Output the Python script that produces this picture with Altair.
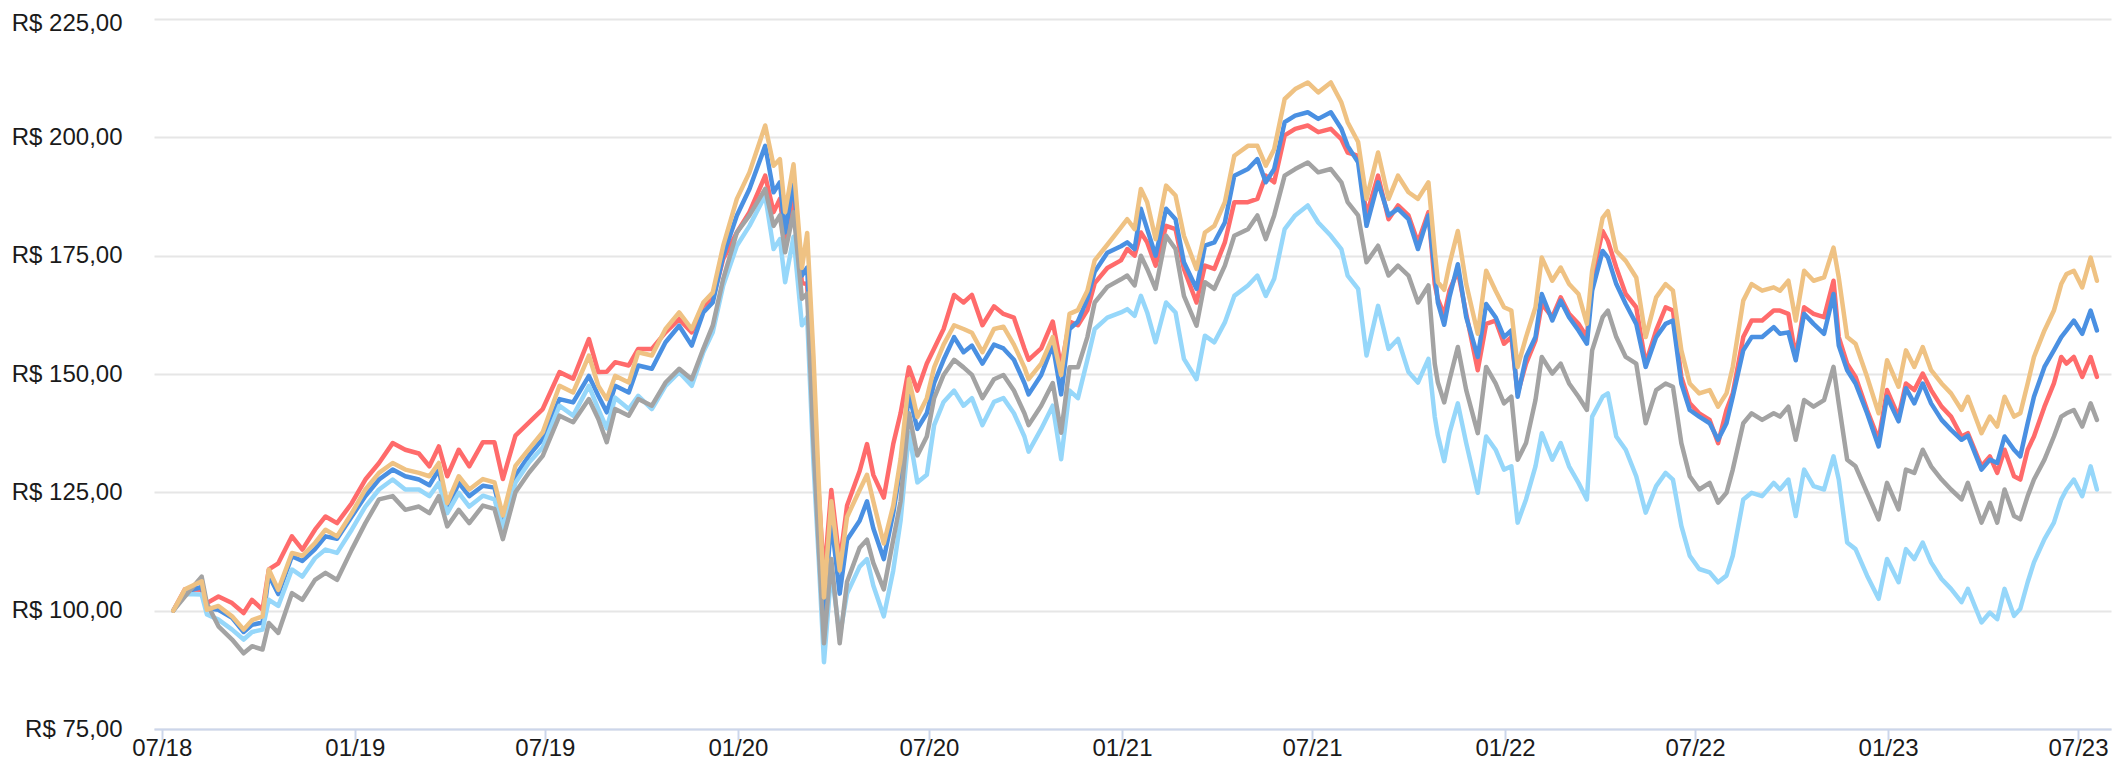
import altair as alt
import pandas as pd

# ---- data (dates and five portfolio series) ----
dates = [
    # 2018
    "2018-07-12", "2018-07-23", "2018-08-08", "2018-08-13", "2018-08-24", "2018-09-06",
    "2018-09-17", "2018-09-25", "2018-10-05", "2018-10-11", "2018-10-20", "2018-11-02",
    "2018-11-12", "2018-11-24", "2018-12-04", "2018-12-15", "2018-12-29",
    # 2019
    "2019-01-11", "2019-01-24", "2019-02-06", "2019-02-18", "2019-03-03", "2019-03-13",
    "2019-03-22", "2019-03-30", "2019-04-10", "2019-04-20", "2019-05-03", "2019-05-14",
    "2019-05-22", "2019-06-03", "2019-06-16", "2019-06-29", "2019-07-15", "2019-07-28",
    "2019-08-12", "2019-08-21", "2019-08-29", "2019-09-06", "2019-09-19", "2019-09-28",
    "2019-10-11", "2019-10-24", "2019-11-06", "2019-11-18", "2019-11-29", "2019-12-08",
    "2019-12-18", "2019-12-31",
    # 2020
    "2020-01-12", "2020-01-27", "2020-02-04", "2020-02-10", "2020-02-15", "2020-02-23",
    "2020-03-02", "2020-03-07", "2020-03-13", "2020-03-18", "2020-03-23", "2020-03-30",
    "2020-04-07", "2020-04-14", "2020-04-26", "2020-05-03", "2020-05-09", "2020-05-19",
    "2020-05-28", "2020-06-04", "2020-06-12", "2020-06-20", "2020-06-29", "2020-07-06",
    "2020-07-15", "2020-07-25", "2020-08-03", "2020-08-11", "2020-08-21", "2020-09-01",
    "2020-09-10", "2020-09-20", "2020-09-30", "2020-10-04", "2020-10-16", "2020-10-27",
    "2020-11-04", "2020-11-12", "2020-11-20", "2020-11-29", "2020-12-06", "2020-12-18",
    "2020-12-31",
    # 2021
    "2021-01-06", "2021-01-13", "2021-01-19", "2021-01-25", "2021-02-02", "2021-02-12",
    "2021-02-21", "2021-03-01", "2021-03-13", "2021-03-21", "2021-03-30", "2021-04-09",
    "2021-04-18", "2021-05-01", "2021-05-10", "2021-05-18", "2021-05-26", "2021-06-05",
    "2021-06-15", "2021-06-27", "2021-07-07", "2021-07-19", "2021-07-29", "2021-08-04",
    "2021-08-14", "2021-08-22", "2021-09-02", "2021-09-12", "2021-09-21", "2021-10-01",
    "2021-10-10", "2021-10-20", "2021-10-26", "2021-10-29", "2021-11-04", "2021-11-09",
    "2021-11-17", "2021-11-25", "2021-12-06", "2021-12-14", "2021-12-23", "2021-12-31",
    # 2022
    "2022-01-07", "2022-01-13", "2022-01-21", "2022-01-30", "2022-02-05", "2022-02-15",
    "2022-02-23", "2022-03-03", "2022-03-12", "2022-03-20", "2022-03-25", "2022-04-04",
    "2022-04-09", "2022-04-17", "2022-04-26", "2022-05-06", "2022-05-15", "2022-05-25",
    "2022-06-03", "2022-06-10", "2022-06-18", "2022-06-26", "2022-07-05", "2022-07-15",
    "2022-07-23", "2022-07-31", "2022-08-06", "2022-08-16", "2022-08-24", "2022-09-03",
    "2022-09-14", "2022-09-20", "2022-09-28", "2022-10-05", "2022-10-13", "2022-10-22",
    "2022-11-01", "2022-11-10", "2022-11-15", "2022-11-23", "2022-12-01", "2022-12-12",
    "2022-12-23", "2022-12-31",
    # 2023
    "2023-01-11", "2023-01-18", "2023-01-26", "2023-02-03", "2023-02-11", "2023-02-21",
    "2023-03-02", "2023-03-12", "2023-03-18", "2023-03-31", "2023-04-08", "2023-04-15",
    "2023-04-22", "2023-05-01", "2023-05-07", "2023-05-14", "2023-05-20", "2023-05-30",
    "2023-06-08", "2023-06-15", "2023-06-20", "2023-06-27", "2023-07-05", "2023-07-13",
    "2023-07-19",
]

red = [
    100, 104.5, 104.4, 101.6, 103, 101.6, 99.5, 102.3, 100.2, 108.7, 110, 115.7,
    112.9, 117.1, 119.9, 118.5, 122.7,
    127.7, 131.2, 135.4, 134, 133.2, 130.5, 134.7, 128.4, 134, 130.5, 135.6, 135.6,
    127.8, 137, 139.8, 142.6, 150.4, 149, 157.4, 150.4, 150.5, 152.5, 151.8, 155.3,
    155.3, 158.8, 161.6, 158.8, 164.4, 165.8, 174.3, 179.9,
    184.2, 191.9, 184.2, 187, 178, 187.8, 169.2, 169, 140, 125, 106.9, 125.5,
    110.1, 122.2, 129.5, 135.2, 128.7, 123.9, 135.2, 141.7, 151.4, 146.5, 152.2, 155.4,
    159.5, 166.7, 165.1, 166.7, 160.3, 164.3, 162.7, 161.9, 155.4, 153, 155.4, 161.1,
    151.4, 161.1, 160.3, 163.5, 169.2, 172.4, 174,
    176.4, 175, 179.9, 177.8, 172.9, 181.3, 180.6, 172.2, 165.1, 172.9, 172.2, 177.8,
    186.3, 186.3, 187, 191.9, 190.5, 200.4, 201.8, 202.5, 201.1, 201.8, 199.6, 196.8,
    196.1, 183.5, 191.9, 182.7, 185.6, 183.5, 177.8, 184.2, 169, 165.8, 162.5, 167.6,
    171.8, 162.7, 150.8, 160.6, 161.3, 156.4,
    157.8, 145.9, 152.2, 157.1, 164.8, 162, 166.2, 162.7, 160.6, 157.8, 170.4, 180.2,
    178.1, 172.5, 166.9, 164.1, 152.2, 159.2, 164.1, 163.4, 149.4, 143.8, 141.7, 140.3,
    135.4, 142.4, 145.9, 157.8, 161.3, 161.3, 163.4, 163.4, 162.7, 153.6, 164.1, 162.7,
    162, 169.7, 157.8, 152.2, 149.4, 142.4, 136.1, 146.6,
    141, 148, 146.6, 150.1, 146.6, 143.1, 141, 136.8, 137.5, 130.5, 132.6, 129.1,
    134, 128.4, 127.7, 134, 136.8, 143.1, 148, 153.6, 152.2, 153.6, 149.4, 153.6,
    149.4,
]

blue = [
    100, 104, 105, 100.5, 100.2, 98.5, 95.5, 97, 97.5, 107.5, 103.5, 111.5,
    110.5, 113, 115.7, 115.2, 119.9,
    124.2, 127.7, 129.8, 128.4, 127.7, 126.5, 129.8, 121.3, 127, 124.2, 126.4, 126,
    119, 128.5, 132.8, 136.3, 144.7, 144, 149.6, 145.4, 141.9, 147.5, 146.1, 151.8,
    151.1, 156.7, 160.2, 156, 163, 165.1, 175, 183.5,
    189.1, 198.2, 188.4, 190.5, 179.9, 190.5, 170.8, 172.5, 143.3, 121.4, 99.6, 119,
    103.6, 115, 119, 123.1, 117.4, 110.9, 120.6, 130.3, 145.7, 138.4, 141.7, 148.1,
    153, 157.8, 154.6, 156, 152.2, 156.2, 155.4, 153, 148.1, 145.7, 149.8, 156.2,
    145.7, 159.5, 161.1, 165.9, 171.6, 175.6, 177,
    177.8, 176.4, 184.9, 180.6, 175, 184.9, 182.7, 173.6, 168, 177.1, 177.8, 182,
    191.9, 193.3, 195.4, 190.5, 193.3, 203.2, 204.6, 205.3, 203.9, 205.3, 201.8, 198.2,
    194.7, 181.3, 190.5, 183.5, 184.9, 182.7, 176.4, 183.5, 171.8, 165.1, 160.4, 166.2,
    173.2, 162, 153.6, 164.8, 162, 157.8,
    159.2, 145.2, 153.6, 157.8, 166.9, 161.3, 165.5, 162, 159.2, 156.4, 167.6, 176,
    174.6, 169, 164.8, 160.6, 151.5, 157.8, 160.6, 161.3, 148, 142.4, 141, 139.6,
    136.1, 139.6, 145.2, 155, 157.8, 157.8, 159.9, 158.5, 158.8, 152.9, 162.7, 160.6,
    158.5, 166.9, 156, 150.8, 148, 141.7, 134.7, 145.2,
    140, 147, 143.8, 148, 143.8, 140.3, 138.2, 136.1, 137, 129.8, 131.9, 131.2,
    136.8, 134, 132.6, 139.6, 145.2, 151.5, 155, 157.8, 159.2, 161.3, 158.5, 163.4,
    159.2,
]

gray = [
    100, 103, 107.2, 101.5, 96.7, 93.9, 91, 92.5, 91.8, 97.4, 95.3, 103.7,
    102.3, 106.5, 108, 106.5, 112.9,
    118.5, 123.5, 124.2, 121.3, 122, 120.6, 124.2, 117.8, 121.3, 118.5, 122.2, 121.5,
    115.1, 125, 129.2, 132.7, 141.2, 139.8, 144.7, 140.5, 135.6, 142.6, 141.2, 144.7,
    143.3, 148.2, 151.1, 148.9, 155.3, 160.2, 170.1, 179.9,
    183.5, 189.1, 181.3, 183.5, 175.7, 184.2, 165.9, 167, 135.2, 113.3, 93.1, 110.9,
    93.1, 106.1, 113.3, 115, 110.1, 104.5, 115, 123.1, 141.7, 132.8, 136.8, 144.9,
    149.8, 153, 151.4, 149.8, 144.9, 148.9, 149.8, 146.5, 141.7, 139.2, 143.3, 148.1,
    137.6, 151.4, 151.4, 157.8, 165.1, 168.4, 170,
    170.8, 168.7, 175, 172.2, 168, 179.2, 176.4, 166.5, 160.2, 169.4, 168, 172.9,
    179.2, 180.6, 183.5, 178.5, 183.5, 191.9, 193.3, 194.7, 192.6, 193.3, 190.5, 186.3,
    183.5, 173.6, 177.1, 170.8, 172.9, 170.8, 165.1, 168.7, 152.2, 148.2, 144, 148.7,
    155.7, 146.6, 137.5, 151.5, 148, 143.8,
    145.2, 131.9, 135.4, 144.5, 153.6, 150.1, 152.2, 148, 145.2, 142.4, 155, 162,
    163.4, 157.8, 153.6, 152.2, 139.6, 146.6, 148, 147.3, 135.4, 128.4, 125.6, 127,
    122.8, 124.9, 129.8, 139.6, 141.7, 140.3, 141.7, 141, 143.1, 136.1, 144.5, 143.1,
    144.5, 151.5, 143.8, 131.9, 130.5, 124.9, 119.3, 127,
    121.4, 129.8, 129.1, 134, 130.5, 127.7, 125.6, 123.5, 127, 118.6, 122.8, 118.6,
    125.6, 120, 119.3, 124.2, 127.7, 131.9, 136.8, 141, 141.7, 142.4, 138.9, 143.8,
    140.3,
]

light_blue = [
    100, 103.5, 103.4, 99.2, 98.1, 96, 93.9, 95.5, 96, 102.3, 101, 108.7,
    107.2, 111.1, 112.9, 112.2, 117.1,
    122, 125.6, 127.7, 125.6, 125.6, 124.2, 127, 120.6, 124.9, 122, 124.3, 123.5,
    117.5, 127, 131.3, 134.5, 143.3, 141.2, 147.5, 142.6, 138.5, 145, 142.6, 145.4,
    142.6, 147.5, 150.4, 147.5, 154.6, 158.8, 168.7, 177.1,
    181.3, 187.7, 176.4, 178.5, 169.4, 179, 160.3, 162, 131.1, 110.9, 89.1, 108.5,
    94.7, 103.6, 109.3, 110.9, 105.3, 98.8, 108.5, 119, 137.6, 127.1, 128.7, 139.2,
    144.1, 146.5, 143.3, 144.9, 139.2, 144.1, 144.9, 141.7, 136.8, 133.6, 138.4, 143.3,
    132, 146.5, 144.9, 153, 159.5, 161.9, 163,
    163.7, 162.3, 166.5, 163, 156.7, 165.1, 163, 153.2, 148.9, 158.1, 156.7, 160.9,
    166.5, 168.7, 170.8, 166.5, 170.1, 180.6, 183.5, 185.6, 182, 179.2, 176.4, 170.8,
    168, 153.9, 164.4, 155.3, 157.4, 150.4, 148.2, 153.2, 141, 137, 131.6, 137.5,
    143.8, 135.4, 124.9, 136.8, 134, 129.8,
    130.5, 118.6, 123.5, 130.5, 137.5, 131.9, 135.4, 130.5, 127, 123.5, 141, 145.2,
    145.9, 136.8, 134, 128.4, 120.7, 126.3, 129.1, 127.7, 117.9, 111.6, 108.8, 108.1,
    106, 107.4, 111.6, 123.5, 124.9, 124.2, 127, 125.6, 127.7, 120, 129.8, 126.3,
    125.6, 132.6, 127.7, 114.4, 113, 107.4, 102.5, 110.9,
    106, 113, 110.9, 114.4, 110.2, 106.7, 104.6, 101.8, 104.6, 97.5, 99.6, 98.2,
    104.6, 98.9, 100.4, 106, 110.2, 115.1, 118.6, 123.5, 125.6, 127.7, 124.2, 130.5,
    125.6,
]

orange = [
    100, 104.5, 106.2, 100.2, 101, 98.8, 96, 98, 98.8, 108.7, 104.4, 112.2,
    111.6, 114.3, 117.1, 115.7, 120.6,
    125.6, 129.1, 131.2, 129.8, 129.1, 128.4, 131.2, 122.7, 128.4, 125.6, 127.8, 127.1,
    120.1, 130.6, 134.2, 137.7, 147.5, 146.1, 153.9, 147.5, 144.7, 149.6, 148.2, 154.6,
    153.9, 159.5, 163, 159.5, 165.1, 167.2, 177.1, 187,
    192.6, 202.5, 194, 195.4, 184.2, 194.3, 172.4, 179.8, 153.8, 127.1, 102.8, 123.1,
    108.5, 119.8, 125.5, 128.7, 123.1, 114.2, 122.2, 132, 148.9, 140.9, 144.9, 151.4,
    156.2, 160.3, 159.5, 158.7, 154.6, 159.5, 160, 156.2, 151.4, 148.9, 152.2, 157.8,
    149.8, 162.7, 163.5, 167.6, 174, 177.3, 181,
    182.7, 180.6, 189.1, 186.3, 178.5, 189.8, 187.7, 179.2, 172.2, 179.9, 181.3, 186.3,
    196.1, 198.2, 198.2, 194, 197.5, 208.1, 210.2, 211.6, 209.5, 211.6, 207.4, 203.2,
    199, 187, 196.8, 187, 191.9, 188.4, 187, 190.5, 176, 169.4, 167.8, 173.2,
    180.2, 169, 158.5, 171.8, 167.6, 164.1,
    163.4, 151.5, 157.8, 164.1, 174.6, 169.7, 172.5, 169, 166.9, 160.6, 171.8, 183,
    184.4, 176, 173.9, 170.4, 157.8, 166.2, 169, 167.6, 155, 148, 145.9, 146.6,
    143.1, 145.9, 151.5, 165.5, 169, 167.6, 168.3, 167.6, 169.7, 161.3, 171.8, 169.7,
    170.4, 176.7, 170.4, 157.8, 156.4, 149.4, 141.7, 152.9,
    147.3, 155, 151.5, 155.7, 150.8, 148, 145.9, 142.4, 145.2, 137.5, 141, 138.9,
    145.2, 141, 141.7, 148, 153.6, 159.2, 163.4, 169, 171.1, 171.8, 168.3, 174.6,
    169.7,
]

series_names = ["Carteira 1", "Carteira 2", "Carteira 3", "Carteira 4", "Carteira 5"]
series_values = [red, blue, light_blue, gray, orange]
series_colors = ["#FF6B6B", "#4A90E2", "#96D7FA", "#A3A3A3", "#EFC283"]

y_ticks = [75, 100, 125, 150, 175, 200, 225]
x_ticks = ["2018-07-01", "2019-01-01", "2019-07-01", "2020-01-01", "2020-07-01", "2021-01-01",
           "2021-07-01", "2022-01-01", "2022-07-01", "2023-01-01", "2023-07-01"]

for vals in series_values:
    assert len(vals) == len(dates), len(vals)

frames = []
for name, vals in zip(series_names, series_values):
    frames.append(pd.DataFrame({"data": dates, "serie": name, "valor": vals}))
df = pd.concat(frames, ignore_index=True)


def dt(s):
    y, m, d = [int(p) for p in s.split("-")]
    return alt.DateTime(year=y, month=m, date=d, utc=True)


FONT = "Liberation Sans"
FS = 24

x_enc = alt.X(
    "data:T",
    title=None,
    scale=alt.Scale(type="utc", domain=[
        alt.DateTime(year=2018, month=6, date=23, hours=14, utc=True),
        alt.DateTime(year=2023, month=8, date=1, hours=10, utc=True),
    ]),
    axis=alt.Axis(
        values=[dt(s) for s in x_ticks],
        labelExpr="utcFormat(datum.value, '%m/%y')",
        grid=False, domainColor="#ccd6eb", domainWidth=2,
        tickColor="#ccd6eb", tickWidth=2, tickSize=11,
        labelFont=FONT, labelFontSize=FS, labelColor="#1a1a1a",
        labelBaseline="bottom", labelPadding=20,
        labelFlush=False, labelOverlap=False,
    ),
)
y_enc = alt.Y(
    "valor:Q",
    title=None,
    scale=alt.Scale(domain=[75, 225], nice=False, zero=False),
    axis=alt.Axis(
        values=y_ticks, domain=False, ticks=False,
        grid=True, gridColor="#e6e6e6", gridWidth=2,
        labelExpr="'R$ ' + replace(format(datum.value, '.2f'), '.', ',')",
        labelFont=FONT, labelFontSize=FS, labelColor="#1a1a1a", labelPadding=32,
        labelOffset={"condition": {"test": "datum.value == 225", "value": 4}, "value": 0},
    ),
)

layers = []
for name, color in zip(series_names, series_colors):
    layers.append(
        alt.Chart(df)
        .transform_filter(alt.datum.serie == name)
        .mark_line(color=color, strokeWidth=4.5, strokeJoin="round", strokeCap="round")
        .encode(x=x_enc, y=y_enc)
    )

chart = (
    alt.layer(*layers)
    .properties(
        width=1957, height=710,
        autosize=alt.AutoSizeParams(type="none"),
        padding={"left": 146, "top": 11, "right": 8, "bottom": 32},
        background="white",
    )
    .configure_view(stroke=None)
)

chart.save("out.html", embed_options={"renderer": "svg", "actions": False})
